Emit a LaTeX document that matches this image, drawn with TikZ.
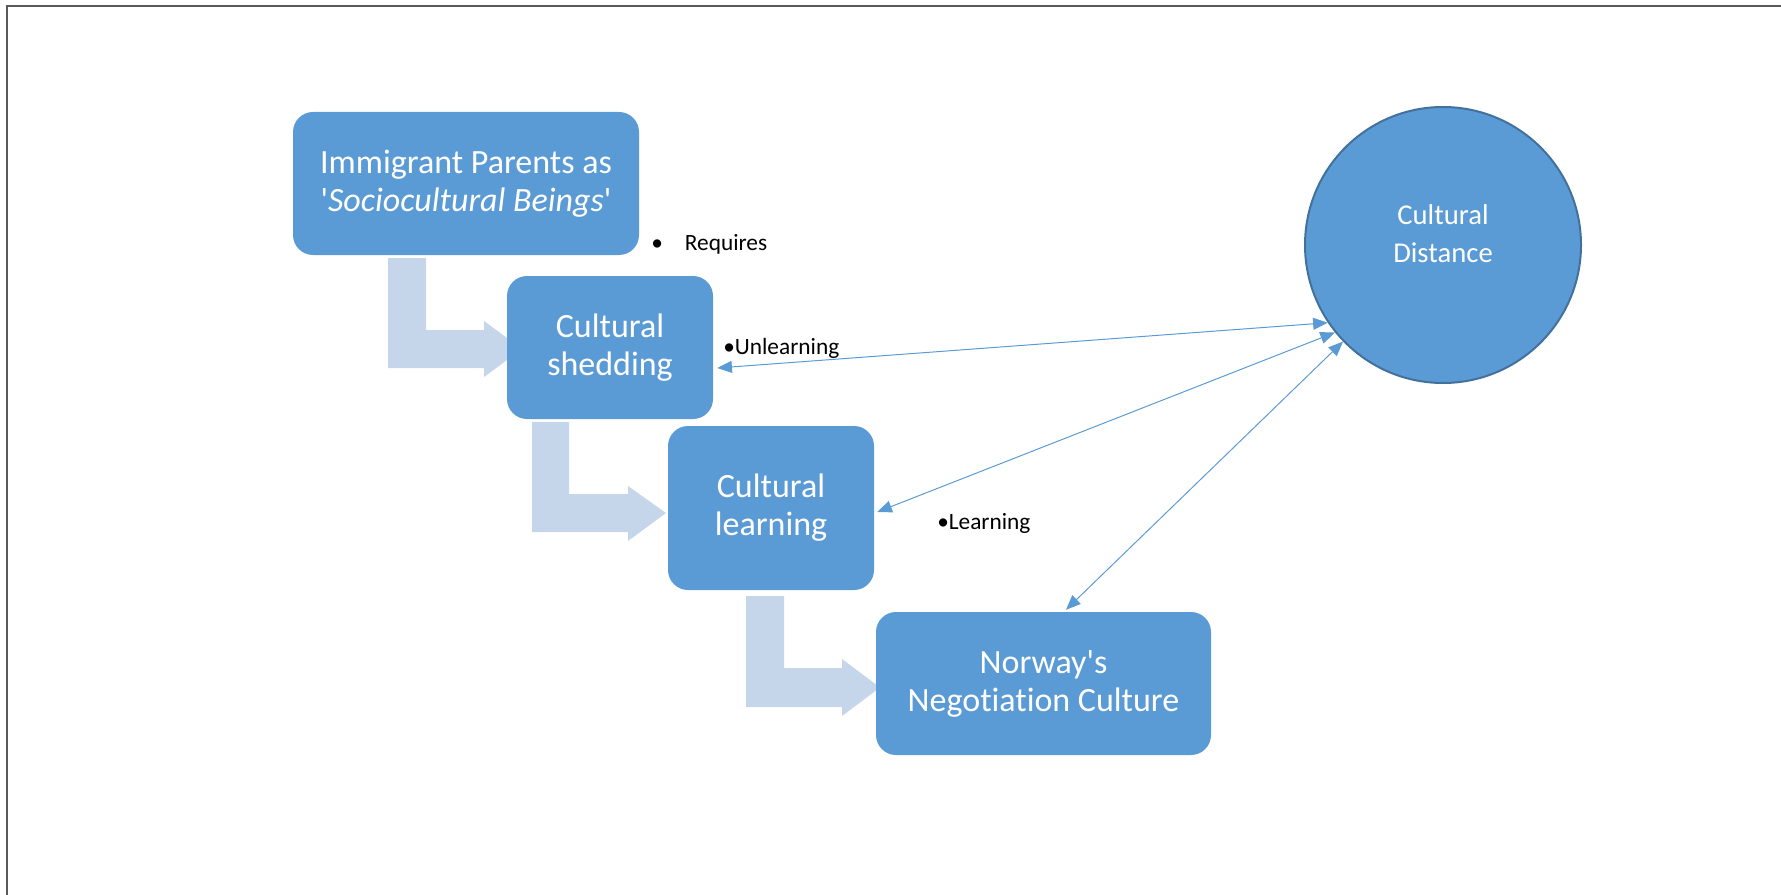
\documentclass[tikz,border=0pt]{standalone}
\usepackage{fontspec}
\setmainfont{Carlito}[Ligatures={TeXOff,CommonOff}]
\usetikzlibrary{arrows.meta,calc}
\definecolor{boxblue}{HTML}{5B9BD5}
\definecolor{circedge}{HTML}{41719C}
\definecolor{bentc}{HTML}{C5D5EA}
\definecolor{framegray}{HTML}{595959}
\begin{document}
\begin{tikzpicture}[x=0.75pt,y=-0.75pt,
  box/.style={rectangle, rounded corners=15pt, fill=boxblue, text=white, align=center, inner sep=0pt, font=\fontsize{25.5}{28.5}\selectfont},
  bent/.style={fill=bentc, draw=none},
  link/.style={draw=boxblue, line width=0.75pt, {Triangle[length=11pt,width=9pt]}-{Triangle[length=11pt,width=9pt]}},
  note/.style={anchor=base west, inner sep=0pt, font=\fontsize{17.5}{21}\selectfont, text=black}]
\useasboundingbox (0,0) rectangle (1781,895);
\draw[framegray, line width=1.5pt] (7,895) -- (7,6) -- (1781,6);
% bent arrows
\fill[bent] (388,258) -- (426,258) -- (426,330) -- (484,330) -- (484,321) -- (522,349) -- (484,377) -- (484,368) -- (388,368) -- cycle;
\fill[bent] (532,422) -- (569,422) -- (569,494) -- (628,494) -- (628,486) -- (666,513) -- (628,541) -- (628,532) -- (532,532) -- cycle;
\fill[bent] (746,596) -- (784,596) -- (784,668) -- (842,668) -- (842,659) -- (880,687.5) -- (842,716) -- (842,707) -- (746,707) -- cycle;
% boxes
\node[box, minimum width=259.5pt, minimum height=107.25pt] (imm) at (466,183.5) {Immigrant Parents as\\'\textit{Sociocultural Beings}'};
\node[box, minimum width=154.5pt, minimum height=107.25pt] (shed) at (610,347.5) {Cultural\\shedding};
\node[box, minimum width=154.5pt, minimum height=123pt] (learn) at (771,508) {Cultural\\learning};
\node[box, minimum width=251.25pt, minimum height=107.25pt] (norway) at (1043.5,683.5) {Norway's\\Negotiation Culture};
\node[circle, fill=boxblue, draw=circedge, line width=1.5pt, minimum size=207pt, inner sep=0pt] (cd) at (1443,245) {};
\node[align=center, text=white, inner sep=0pt, font=\fontsize{21.5}{28.5}\selectfont] (cdlabel) at (1443,234) {Cultural\\Distance};
% notes
\node[note] (req) at (651,250) {•\hspace{16.5pt}Requires};
\node[note] (unl) at (723,354.3) {•Unlearning};
\node[note] (lrn) at (937,529) {•Learning};
% connectors
\draw[link] ($(shed.east)+(4,20.5)$) -- (cd.214.6);
\draw[link] ($(learn.east)+(3,4)$) -- (cd.219.8);
\draw[link] ($(norway.north)+(22.5,-2)$) -- (cd.224);
\end{tikzpicture}
\end{document}
